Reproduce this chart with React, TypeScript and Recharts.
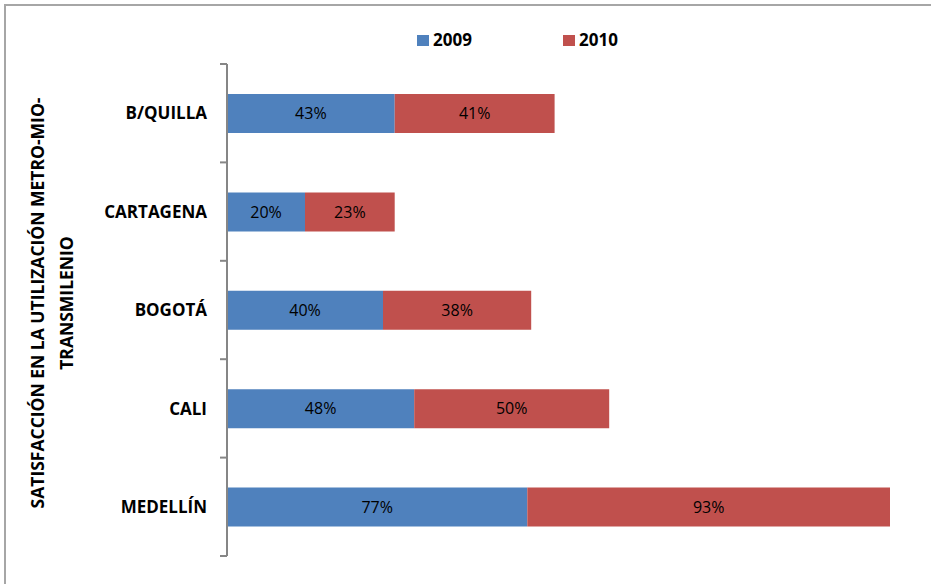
import { Bar, BarChart, LabelList, XAxis, YAxis } from "recharts";

const CATEGORIES = ["B/QUILLA", "CARTAGENA", "BOGOTÁ", "CALI", "MEDELLÍN"];
const SERIES_2009 = [43, 20, 40, 48, 77];
const SERIES_2010 = [41, 23, 38, 50, 93];
const SERIES_NAMES = ["2009", "2010"];
const AXIS_TITLE = ["SATISFACCIÓN EN LA UTILIZACIÓN  METRO-MIO-", "TRANSMILENIO"];

const BLUE = "#4F81BD";
const RED = "#C0504D";
const AXIS_GRAY = "#868686";
const FONT = "'Open Sans', Lato, sans-serif";

const W = 931;
const H = 584;
const PLOT_LEFT = 227;
const PLOT_TOP = 64;
const PLOT_BOTTOM = 556;
const BAND = (PLOT_BOTTOM - PLOT_TOP) / CATEGORIES.length;

const data = CATEGORIES.map((city, i) => ({
  city,
  y2009: SERIES_2009[i],
  y2010: SERIES_2010[i],
}));

function CityTick(props: any) {
  const { y, payload, index } = props;
  const top = y - BAND / 2;
  const bottom = y + BAND / 2;
  return (
    <g>
      <line x1={PLOT_LEFT - 7} x2={PLOT_LEFT} y1={top} y2={top} stroke={AXIS_GRAY} strokeWidth={2} />
      {index === CATEGORIES.length - 1 && (
        <line x1={PLOT_LEFT - 7} x2={PLOT_LEFT} y1={bottom} y2={bottom} stroke={AXIS_GRAY} strokeWidth={2} />
      )}
      <text
        x={PLOT_LEFT - 20}
        y={y}
        dy="0.36em"
        textAnchor="end"
        fill="#000"
        fontFamily={FONT}
        fontWeight={700}
        fontSize={17}
      >
        {payload.value}
      </text>
    </g>
  );
}

function AxisTitle() {
  const cy = 303;
  return (
    <g fontFamily={FONT} fontWeight={700} fontSize={17.5} fill="#000" style={{ whiteSpace: "pre" }}>
      <text x={38} y={cy} dy="0.36em" textAnchor="middle" transform={`rotate(-90 38 ${cy})`}>
        {AXIS_TITLE[0]}
      </text>
      <text x={67} y={cy} dy="0.36em" textAnchor="middle" transform={`rotate(-90 67 ${cy})`}>
        {AXIS_TITLE[1]}
      </text>
    </g>
  );
}

export default function App() {
  return (
    <div style={{ position: "relative", width: W, height: H, overflow: "hidden", background: "#fff" }}>
      <style>{`body{margin:0}`}</style>
      <div
        style={{
          position: "absolute",
          left: 4,
          top: 4,
          width: W + 20,
          height: H + 20,
          border: "2px solid #A6A6A6",
          boxSizing: "border-box",
        }}
      />
      <div
        style={{
          position: "absolute",
          top: 28,
          left: 417,
          display: "flex",
          fontFamily: FONT,
          fontWeight: 700,
          fontSize: 17,
          lineHeight: "24px",
          color: "#000",
        }}
      >
        {SERIES_NAMES.map((name, i) => (
          <div key={name} style={{ display: "flex", alignItems: "center", width: 146 }}>
            <span
              style={{
                display: "inline-block",
                width: 12,
                height: 11,
                background: i === 0 ? BLUE : RED,
                marginRight: 4,
              }}
            />
            {name}
          </div>
        ))}
      </div>
      <div style={{ position: "absolute", left: 0, top: 0 }}>
        <BarChart
          width={W}
          height={H}
          data={data}
          layout="vertical"
          margin={{ top: PLOT_TOP, right: W - 890, bottom: H - PLOT_BOTTOM, left: 0 }}
          barSize={39}
        >
          <XAxis type="number" hide domain={[0, 170]} />
          <YAxis
            type="category"
            dataKey="city"
            width={PLOT_LEFT}
            axisLine={{ stroke: AXIS_GRAY, strokeWidth: 2 }}
            tickLine={false}
            tick={<CityTick />}
            interval={0}
            label={{ content: () => <AxisTitle /> }}
          />
          <Bar dataKey="y2009" stackId="s" fill={BLUE} isAnimationActive={false}>
            <LabelList
              dataKey="y2009"
              position="center"
              fill="#000"
              fontFamily={FONT}
              fontSize={16}
              formatter={(v: any) => `${v}%`}
            />
          </Bar>
          <Bar dataKey="y2010" stackId="s" fill={RED} isAnimationActive={false}>
            <LabelList
              dataKey="y2010"
              position="center"
              fill="#000"
              fontFamily={FONT}
              fontSize={16}
              formatter={(v: any) => `${v}%`}
            />
          </Bar>
        </BarChart>
      </div>
    </div>
  );
}
